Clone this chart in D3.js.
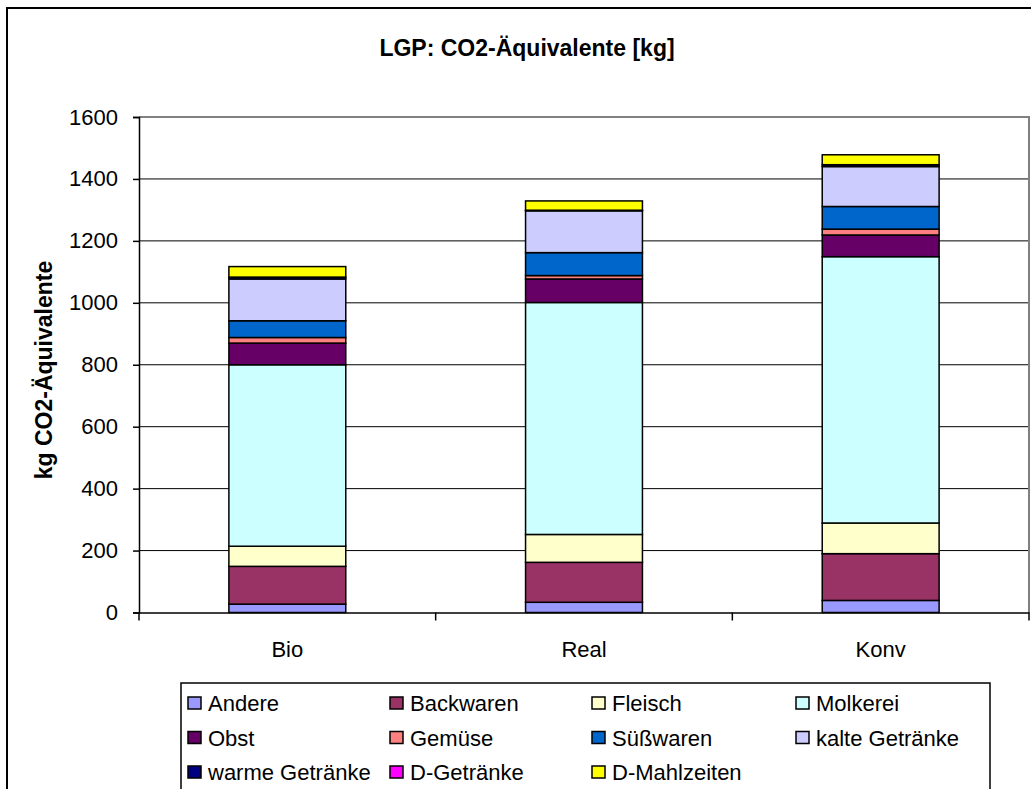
<!DOCTYPE html>
<html><head><meta charset="utf-8">
<script src="https://cdn.jsdelivr.net/npm/d3@7"></script>
<style>
html,body{margin:0;padding:0;background:#fff;overflow:hidden;}
text{font-family:"Liberation Sans",Arial,sans-serif;fill:#000;}
</style></head>
<body>
<svg id="chart" width="1031" height="789"></svg>
<script>
const categories = ["Bio", "Real", "Konv"];
const seriesNames = ["Andere","Backwaren","Fleisch","Molkerei","Obst","Gemüse","Süßwaren","kalte Getränke","warme Getränke","D-Getränke","D-Mahlzeiten"];
const seriesColors = ["#9999FF","#993366","#FFFFCC","#CCFFFF","#660066","#FF8080","#0066CC","#CCCCFF","#000080","#FF00FF","#FFFF00"];
const andere = [27, 33, 39];
const backwaren = [122, 129, 151];
const fleisch = [65, 90, 99];
const molkerei = [586, 749, 860];
const obst = [70, 76, 70];
const gemuese = [18, 11, 19];
const suesswaren = [54, 74, 73];
const kalteGetraenke = [135, 135, 129];
const warmeGetraenke = [6, 2, 6];
const dGetraenke = [0, 0, 0];
const dMahlzeiten = [34, 30, 32];
const yTicks = [0, 200, 400, 600, 800, 1000, 1200, 1400, 1600];
const title = "LGP: CO2-Äquivalente [kg]";
const yTitle = "kg CO2-Äquivalente";

const seriesValues = [andere, backwaren, fleisch, molkerei, obst, gemuese, suesswaren, kalteGetraenke, warmeGetraenke, dGetraenke, dMahlzeiten];
const table = categories.map((c, i) => {
  const row = {cat: c};
  seriesNames.forEach((s, j) => row[s] = seriesValues[j][i]);
  return row;
});
const stacked = d3.stack().keys(seriesNames)(table);

const svg = d3.select("#chart");
const L = 139, R = 1029, T = 117, B = 612.5;

// outer chart border
svg.append("rect").attr("x", 7).attr("y", 8).attr("width", 1040).attr("height", 800)
  .attr("fill", "#fff").attr("stroke", "#000").attr("stroke-width", 2);

const x = d3.scaleBand().domain(categories).range([L, R]).paddingInner(0.606).paddingOuter(0.303);
const y = d3.scaleLinear().domain([0, 1600]).range([B, T]);

// gridlines
svg.append("g").selectAll("line").data(yTicks.filter(t => t > 0 && t < 1600)).join("line")
  .attr("x1", L).attr("x2", R).attr("y1", d => y(d)).attr("y2", d => y(d))
  .attr("stroke", "#000").attr("stroke-width", 1);

// plot area border (top/right gray)
svg.append("path").attr("d", `M${L},${y(1600)}H${R}V${B}`)
  .attr("fill", "none").attr("stroke", "#808080").attr("stroke-width", 2);

// bars
svg.append("g").selectAll("g").data(stacked).join("g")
  .attr("fill", (d, i) => seriesColors[i])
  .selectAll("rect").data(d => d.filter(p => p[1] - p[0] > 0)).join("rect")
  .attr("x", d => x(d.data.cat)).attr("width", x.bandwidth())
  .attr("y", d => y(d[1])).attr("height", d => y(d[0]) - y(d[1]))
  .attr("stroke", "#000").attr("stroke-width", 1.5);

// y axis
const yAxis = svg.append("g").attr("transform", `translate(${L},0)`)
  .call(d3.axisLeft(y).tickValues(yTicks).tickSize(6).tickPadding(15).tickFormat(d3.format("d")));
yAxis.select(".domain").attr("stroke", "#000").attr("stroke-width", 1.5);
yAxis.selectAll(".tick line").attr("stroke", "#000").attr("stroke-width", 1.5);
yAxis.selectAll("text").attr("font-size", 22).attr("fill", "#000")
  .attr("font-family", '"Liberation Sans",Arial,sans-serif');

// x axis
const xAxis = svg.append("g").attr("transform", `translate(0,${B})`)
  .call(d3.axisBottom(x).tickSize(0).tickPadding(29));
xAxis.select(".domain").attr("stroke", "#000").attr("stroke-width", 1.5);
xAxis.selectAll("text").attr("font-size", 22).attr("fill", "#000")
  .attr("font-family", '"Liberation Sans",Arial,sans-serif');
// category separator ticks
const sepX = [L].concat(categories.map(c => x(c) + x.bandwidth() / 2 + x.step() / 2));
svg.append("g").selectAll("line").data(sepX).join("line")
  .attr("x1", d => d).attr("x2", d => d).attr("y1", B).attr("y2", B + 8)
  .attr("stroke", "#000").attr("stroke-width", 1.5);

// title
svg.append("text").attr("x", 527).attr("y", 56).attr("text-anchor", "middle")
  .attr("font-size", 23).attr("font-weight", "bold").text(title);

// y axis title
svg.append("text").attr("transform", "translate(52,370) rotate(-90)").attr("text-anchor", "middle")
  .attr("font-size", 23).attr("font-weight", "bold").text(yTitle);

// legend
svg.append("rect").attr("x", 181).attr("y", 683).attr("width", 809).attr("height", 130)
  .attr("fill", "#fff").attr("stroke", "#000").attr("stroke-width", 1.5);
const colX = [188, 390, 592, 796];
const rowY = [703, 737.5, 772];
const lg = svg.append("g").selectAll("g").data(seriesNames).join("g")
  .attr("transform", (d, i) => `translate(${colX[i % 4]},${rowY[Math.floor(i / 4)]})`);
lg.append("rect").attr("x", 0).attr("y", -6).attr("width", 13).attr("height", 12)
  .attr("fill", (d, i) => seriesColors[i]).attr("stroke", "#000").attr("stroke-width", 1.5);
lg.append("text").attr("x", 20).attr("y", 8).attr("font-size", 22).text(d => d);
</script>
</body></html>
